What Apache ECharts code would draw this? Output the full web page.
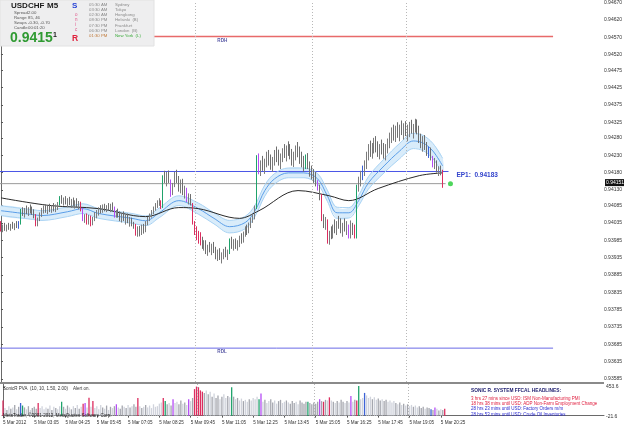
<!DOCTYPE html>
<html><head><meta charset="utf-8">
<script src="https://cdn.jsdelivr.net/npm/echarts@6/dist/echarts.min.js"></script>
<style>html,body{margin:0;padding:0;background:#fff}#c{width:625px;height:429px}</style>
</head><body><div id="c"></div>
<script>
// ---- data (prices in points, 1 point = 0.00001) ----
const ohlc = [ // [open, high, low, close]
[94035,94040,94010,94015],[94015,94030,94008,94025],[94025,94035,94012,94018],[94018,94030,94010,94028],[94028,94035,94015,94020],[94020,94032,94012,94026],[94026,94038,94018,94022],[94022,94034,94014,94030],[94030,94040,94020,94025],[94025,94040,94018,94035],
[94035,94075,94030,94070],[94070,94080,94055,94062],[94062,94078,94050,94072],[94072,94085,94060,94066],[94066,94080,94055,94074],[94074,94088,94062,94068],[94068,94082,94058,94060],[94060,94074,94048,94055],[94055,94060,94025,94030],[94030,94050,94025,94045],
[94045,94065,94040,94060],[94060,94078,94052,94070],[94070,94085,94062,94076],[94076,94088,94064,94070],[94070,94084,94060,94078],[94078,94090,94066,94072],[94072,94086,94064,94080],[94080,94092,94068,94074],[94074,94088,94066,94082],[94082,94095,94072,94088],
[94088,94112,94085,94108],[94108,94115,94090,94096],[94096,94108,94085,94100],[94100,94112,94088,94092],[94092,94106,94080,94098],[94098,94110,94086,94090],[94090,94104,94078,94096],[94096,94108,94084,94088],[94088,94100,94076,94094],[94094,94106,94080,94086],
[94086,94098,94074,94092],[94092,94096,94068,94072],[94072,94078,94040,94045],[94045,94060,94035,94055],[94055,94062,94030,94036],[94036,94058,94030,94050],[94050,94056,94025,94032],[94032,94052,94028,94046],[94046,94066,94040,94060],[94060,94072,94048,94066],
[94066,94080,94056,94074],[94074,94086,94062,94070],[94070,94088,94064,94080],[94080,94090,94068,94074],[94074,94086,94066,94082],[94082,94092,94070,94076],[94076,94090,94066,94084],[94084,94094,94070,94078],[94078,94082,94050,94056],[94056,94072,94050,94066],
[94066,94076,94050,94056],[94056,94068,94040,94048],[94048,94062,94036,94058],[94058,94068,94040,94044],[94044,94058,94030,94050],[94050,94062,94034,94038],[94038,94052,94024,94046],[94046,94050,94025,94030],[94030,94038,94018,94028],[94028,94032,93998,94005],
[94005,94025,93995,94015],[94015,94026,93996,94008],[94008,94030,94000,94020],[94020,94032,94004,94012],[94012,94040,94008,94036],[94036,94052,94028,94046],[94046,94062,94040,94058],[94058,94072,94050,94066],[94066,94082,94060,94078],[94078,94092,94070,94086],
[94086,94100,94078,94094],[94094,94106,94084,94096],[94096,94100,94075,94080],[94080,94172,94078,94168],[94168,94185,94150,94160],[94160,94182,94140,94172],[94172,94186,94150,94156],[94156,94160,94110,94118],[94118,94150,94115,94145],[94145,94182,94138,94175],
[94175,94188,94150,94158],[94158,94170,94125,94135],[94135,94160,94120,94150],[94150,94162,94115,94125],[94125,94142,94105,94132],[94132,94136,94095,94100],[94100,94120,94088,94112],[94112,94118,94085,94090],[94090,94092,94030,94035],[94035,94040,94000,94010],
[94010,94025,93985,93995],[93995,94012,93975,94002],[94002,94008,93970,93978],[93978,93995,93960,93968],[93968,93985,93955,93978],[93978,93985,93945,93950],[93950,93972,93940,93965],[93965,93980,93950,93958],[93958,93975,93942,93968],[93968,93980,93948,93952],
[93952,93966,93930,93940],[93940,93958,93925,93948],[93948,93962,93928,93934],[93934,93950,93918,93944],[93944,93960,93930,93952],[93952,93966,93936,93940],[93940,93958,93928,93950],[93950,93990,93945,93985],[93985,93995,93960,93970],[93970,93988,93955,93978],
[93978,93990,93960,93968],[93968,93985,93955,93978],[93978,93998,93965,93990],[93990,94005,93975,93985],[93985,94010,93978,94004],[94004,94025,93995,94018],[94018,94030,94000,94010],[94010,94036,94005,94030],[94030,94050,94020,94045],[94045,94062,94035,94056],
[94056,94085,94045,94080],[94080,94230,94075,94212],[94212,94235,94175,94185],[94185,94215,94170,94205],[94205,94228,94185,94195],[94195,94220,94176,94212],[94212,94240,94195,94225],[94225,94245,94200,94210],[94210,94232,94188,94198],[94198,94225,94182,94218],
[94218,94245,94200,94235],[94235,94255,94210,94222],[94222,94246,94200,94208],[94208,94235,94190,94226],[94226,94250,94210,94240],[94240,94262,94222,94232],[94232,94258,94212,94248],[94248,94270,94228,94240],[94240,94262,94218,94225],[94225,94248,94200,94212],
[94212,94240,94196,94230],[94230,94258,94215,94245],[94245,94268,94224,94236],[94236,94255,94205,94215],[94215,94240,94195,94206],[94206,94228,94182,94195],[94195,94232,94190,94226],[94226,94236,94190,94198],[94198,94212,94168,94180],[94180,94200,94160,94172],
[94172,94190,94150,94165],[94165,94182,94140,94150],[94150,94158,94128,94134],[94134,94145,94100,94110],[94110,94118,94040,94048],[94048,94060,94020,94030],[94030,94052,94015,94040],[94040,94045,93975,93990],[93990,94012,93972,94005],[94005,94025,93988,94000],
[94000,94030,93990,94022],[94022,94045,94005,94015],[94015,94040,94000,94032],[94032,94055,94018,94026],[94026,94048,94005,94012],[94012,94035,93995,94028],[94028,94048,94010,94020],[94020,94040,94000,94022],[94022,94030,93990,93998],[93998,94042,93990,94018],
[94018,94035,94000,94012],[94012,94030,93990,93995],[93995,94145,93990,94135],[94135,94168,94125,94160],[94160,94185,94140,94175],[94175,94200,94158,94190],[94190,94215,94170,94205],[94205,94240,94190,94232],[94232,94262,94215,94250],[94250,94272,94225,94240],
[94240,94265,94220,94255],[94255,94280,94235,94262],[94262,94285,94238,94248],[94248,94270,94225,94235],[94235,94262,94218,94250],[94250,94275,94232,94242],[94242,94265,94220,94236],[94236,94262,94215,94252],[94252,94278,94235,94268],[94268,94295,94250,94285],
[94285,94310,94265,94298],[94298,94318,94272,94285],[94285,94315,94268,94305],[94305,94325,94280,94292],[94292,94318,94270,94310],[94310,94330,94288,94300],[94300,94322,94275,94312],[94312,94328,94285,94295],[94295,94318,94270,94305],[94305,94326,94282,94315],
[94315,94332,94292,94300],[94300,94320,94278,94310],[94310,94335,94295,94322],[94322,94333,94290,94298],[94298,94315,94265,94275],[94275,94292,94250,94262],[94262,94285,94240,94270],[94270,94288,94245,94250],[94250,94268,94228,94238],[94238,94255,94222,94248],
[94248,94252,94215,94220],[94220,94228,94195,94202],[94202,94222,94190,94210],[94210,94215,94180,94186],[94186,94198,94170,94190],[94190,94200,94172,94180],[94180,94188,94136,94151]
];
const volume = [
240,120,90,150,110,130,170,100,140,200, 160,130,100,150,90,120,140,110,200,120,
150,100,130,110,160,90,140,120,100,150, 220,140,110,160,130,100,150,120,170,110,
140,190,200,130,285,140,230,120,150,100, 170,130,110,160,90,140,120,150,180,130,
110,160,140,120,170,130,150,180,140,280, 150,120,140,170,130,160,120,180,140,150,
190,210,280,230,180,200,160,260,200,220, 180,240,190,210,170,260,230,280,420,460,
450,400,380,360,400,340,380,300,350,280, 320,260,300,340,280,310,290,450,300,260,
280,240,270,230,250,220,260,240,280,260, 300,260,350,220,250,200,230,260,210,240,
190,230,250,200,220,240,210,190,230,200, 220,180,240,210,190,220,220,200,180,210,
190,220,260,230,220,250,240,290,240,220, 200,230,210,250,220,200,230,210,310,220,
250,240,470,260,280,360,320,280,300,260, 290,250,270,240,260,230,250,220,240,210,
230,200,180,210,170,190,160,180,150,170, 140,160,130,150,120,140,110,130,120,100,
90,130,110,80,100,90,110
];
// PVA colour codes: R climax bear, G climax bull, B rising bull, M rising bear
const pvaIdx  = [0,9,10,18,30,41,42,44,46,58,69,82,83,87,95,98,99,100,101,102,117,131,132,156,162,164,167,178,181,182,185,219,221,226];
const pvaCode = ['R','B','G','R','G','R','M','R','R','M','R','R','G','M','M','R','R','R','R','R','G','G','M','G','M','R','R','M','R','G','B','B','M','R'];
// Dragon band (EMA34 high / close / low) and EMA89, read at sparse bars
const emaIdx  = [0,16,21,34,42,50,67,74,81,91,101,109,117,125,130,135,140,147,155,162,167,172,178,183,188,196,204,211,216,221,226];
const emaMid  = [94070,94059,94056,94067,94076,94062,94048,94041,94064,94099,94076,94048,94024,94036,94070,94128,94162,94179,94179,94162,94113,94064,94064,94099,94150,94199,94242,94271,94265,94242,94199];
const emaHigh = [94084,94073,94070,94081,94090,94076,94062,94055,94078,94113,94092,94064,94042,94054,94086,94144,94177,94193,94193,94177,94129,94080,94079,94114,94168,94219,94264,94293,94287,94264,94221];
const emaLow  = [94056,94045,94042,94053,94062,94048,94034,94027,94050,94085,94060,94032,94006,94018,94054,94112,94147,94165,94165,94147,94097,94048,94049,94084,94132,94179,94220,94249,94243,94220,94177];
const ema89Idx = [0,25,50,74,91,101,122,132,152,168,178,193,214,226];
const ema89    = [94107,94085,94076,94053,94079,94076,94048,94070,94128,94113,94099,94134,94171,94179];
// horizontal levels
const levelNames  = ['RDH','RDL','EP1','LAST'];
const levelValues = [94572,93674,94183,94148];
const levelEnds   = [282.5,282.5,229,227.5];
const bidPrice = 94151;
const entryDot = [230, 94148];
const sepIdx = [99.4,159.1,207.6];
// axes
const nCats = 308;
const yTickLabels = ["0.94670","0.94620","0.94570","0.94520","0.94475","0.94425","0.94375","0.94325","0.94280","0.94230","0.94180","0.94130","0.94085","0.94035","0.93985","0.93935","0.93885","0.93835","0.93785","0.93735","0.93685","0.93635","0.93585"];
const volTickLabels = ["453.6","-21.6"];
const timeTickIdx = [0,16,32,48,64,80,96,112,128,144,160,176,192,208,224];
const timeTickLabels = ["5 Mar 2012","5 Mar 03:05","5 Mar 04:25","5 Mar 05:45","5 Mar 07:05","5 Mar 08:25","5 Mar 09:45","5 Mar 11:05","5 Mar 12:25","5 Mar 13:45","5 Mar 15:05","5 Mar 16:25","5 Mar 17:45","5 Mar 19:05","5 Mar 20:25"];
const headlines = [
 ["SONIC R. SYSTEM FFCAL HEADLINES:", "#1c1c6e"],
 ["3 hrs 27 mins since USD: ISM Non-Manufacturing PMI", "#e02040"],
 ["18 hrs 38 mins until USD: ADP Non-Farm Employment Change", "#e02040"],
 ["28 hrs 23 mins until USD: Factory Orders m/m", "#2a2ad0"],
 ["28 hrs 53 mins until USD: Crude Oil Inventories", "#2a2ad0"]
];
const sessionTimes = ["05:30 AM","03:30 AM","02:30 AM","08:30 PM","07:30 PM","06:30 PM","01:30 PM"];
const sessionCities = ["Sydney","Tokyo","Hongkong","Helsinki  (B)","Frankfurt","London  (B)","New York  (L)"];
const infoRows = [["Spread","2.00"],["Range","85, 46"],["Swaps","-0.30, -0.70"],["Candle","00:01:20"]];

// ---- build ----
const P = v => v / 1e5;
const FONT = 'Liberation Sans, Arial, sans-serif';
const pvaColor = {R:'#dc2d5f', G:'#1fa36b', B:'#3d62d6', M:'#b54cf5'};
const codeOf = i => { const k = pvaIdx.indexOf(i); return k >= 0 ? pvaCode[k] : null; };
const cats = Array.from({length: nCats}, (_, i) => String(i));

const candleData = ohlc.map((d, i) => {
  const c = codeOf(i);
  const item = { value: [P(d[0]), P(d[3]), P(d[2]), P(d[1])] };
  if (c) item.itemStyle = { color: pvaColor[c], color0: pvaColor[c], borderColor: pvaColor[c], borderColor0: pvaColor[c] };
  return item;
});
const volData = volume.map((v, i) => {
  const c = codeOf(i);
  const up = ohlc[i][3] >= ohlc[i][0];
  return { value: v, itemStyle: { color: c ? pvaColor[c] : (up ? '#d0d3dc' : '#a4a6ae') } };
});
const lineSeries = (idx, vals, color, width, z) => ({
  type: 'line', xAxisIndex: 1, yAxisIndex: 0, smooth: 0.35, showSymbol: false, silent: true, z: z,
  data: idx.map((x, k) => [x, P(vals[k])]), lineStyle: { color: color, width: width }
});
const levelColors = ['#e86a6a', '#6a6ae6', '#4a56e6', '#9a9a9a'];

const option = {
  animation: false,
  backgroundColor: '#ffffff',
  textStyle: { fontFamily: FONT },
  grid: [
    { left: 0, right: 21, top: 0, height: 382 },
    { left: 0, right: 21, top: 384, height: 34 }
  ],
  xAxis: [
    { type: 'category', gridIndex: 0, data: cats, boundaryGap: true, axisLine: {show: false}, axisTick: {show: false}, axisLabel: {show: false}, splitLine: {show: false} },
    { type: 'value', gridIndex: 0, min: -0.5, max: nCats - 0.5, show: false },
    { type: 'category', gridIndex: 1, data: cats, boundaryGap: true,
      axisLine: { show: true, lineStyle: { color: '#6a6a6a', width: 1 } },
      axisTick: { show: true, alignWithLabel: true, length: 2, interval: (i) => timeTickIdx.indexOf(i) >= 0, lineStyle: { color: '#555' } },
      axisLabel: { show: true, interval: (i) => timeTickIdx.indexOf(i) >= 0, align: 'left', margin: 2, fontSize: 4.6, color: '#333', fontFamily: FONT,
        formatter: (v, i) => { const k = timeTickIdx.indexOf(Number(v)); return k >= 0 ? timeTickLabels[k] : ''; } },
      splitLine: { show: false } },
    { type: 'value', gridIndex: 1, min: -0.5, max: nCats - 0.5, show: false }
  ],
  yAxis: [
    { type: 'value', gridIndex: 0, position: 'right', min: 0.935764, max: 0.946729, scale: true,
      axisLine: { show: true, lineStyle: { color: '#6a6a6a', width: 1 } },
      axisTick: { show: true, length: 2, customValues: yTickLabels.map(Number), lineStyle: { color: '#555' } },
      axisLabel: { show: true, customValues: yTickLabels.map(Number), formatter: v => v.toFixed(5), fontSize: 5, color: '#333', margin: 2, fontFamily: FONT },
      splitLine: { show: false } },
    { type: 'value', gridIndex: 1, position: 'right', min: -37.4, max: 501.1,
      axisLine: { show: true, lineStyle: { color: '#6a6a6a', width: 1 } },
      axisTick: { show: true, length: 2, customValues: volTickLabels.map(Number), lineStyle: { color: '#555' } },
      axisLabel: { show: true, customValues: volTickLabels.map(Number), formatter: v => v.toFixed(1), fontSize: 5, color: '#333', margin: 2, fontFamily: FONT },
      splitLine: { show: false } }
  ],
  series: [
    ...levelNames.map((n, k) => ({
      type: 'line', name: n, xAxisIndex: 1, yAxisIndex: 0, showSymbol: false, silent: true, z: 2,
      data: [[-0.5, P(levelValues[k])], [levelEnds[k], P(levelValues[k])]],
      lineStyle: { color: levelColors[k], width: k === 0 ? 1.4 : 1 }
    })),
    { type: 'custom', xAxisIndex: 1, yAxisIndex: 0, z: 1, silent: true,
      data: emaIdx.map((x, k) => [x, P(emaHigh[k]), P(emaLow[k])]),
      renderItem: (params, api) => {
        if (params.dataIndex !== 0) return null;
        const top = emaIdx.map((x, k) => api.coord([x, P(emaHigh[k])]));
        const bot = emaIdx.map((x, k) => api.coord([x, P(emaLow[k])])).reverse();
        return { type: 'polygon', shape: { points: top.concat(bot), smooth: 0.35 }, style: { fill: '#d9ecfa' } };
      } },
    lineSeries(emaIdx, emaHigh, '#a8d2f3', 1, 3),
    lineSeries(emaIdx, emaLow, '#a8d2f3', 1, 3),
    lineSeries(emaIdx, emaMid, '#5b9ee8', 1, 3),
    lineSeries(ema89Idx, ema89, '#2a2a2a', 1, 3),
    { type: 'line', xAxisIndex: 1, yAxisIndex: 0, data: [], silent: true,
      markLine: { symbol: 'none', silent: true, label: { show: false }, lineStyle: { type: [1, 2], color: '#b8b8b8', width: 1 }, data: sepIdx.map(x => ({ xAxis: x })) } },
    { type: 'line', xAxisIndex: 3, yAxisIndex: 1, data: [], silent: true,
      markLine: { symbol: 'none', silent: true, label: { show: false }, lineStyle: { type: [1, 2], color: '#b8b8b8', width: 1 }, data: sepIdx.map(x => ({ xAxis: x })) } },
    { type: 'candlestick', xAxisIndex: 0, yAxisIndex: 0, z: 5, barWidth: 1.2, data: candleData,
      itemStyle: { color: '#b4b4b4', color0: '#747474', borderColor: '#7c7c7c', borderColor0: '#6e6e6e', borderWidth: 1 } },
    { type: 'scatter', xAxisIndex: 1, yAxisIndex: 0, z: 6, symbolSize: 5, data: [[entryDot[0], P(entryDot[1])]], itemStyle: { color: '#22cc33' } },
    { type: 'bar', xAxisIndex: 2, yAxisIndex: 1, barWidth: 1.3, data: volData }
  ]
};

const chart = echarts.init(document.getElementById('c'), null, { renderer: 'canvas' });
chart.setOption(option);

// ---- text overlays positioned through the chart's scales ----
const toPx = (x, v) => chart.convertToPixel({ seriesIndex: 0 }, [x, P(v)]);
const g = [];
g.push({ type: 'rect', shape: { x: 0, y: 0, width: 154, height: 46 }, style: { fill: '#eeeeef', stroke: '#e2e2e2' }, z: 100 });
g.push({ type: 'text', x: 11, y: 1.5, style: { text: 'USDCHF', font: 'bold 8px ' + FONT, fill: '#1a1a1a' }, z: 101 });
g.push({ type: 'text', x: 47, y: 1.5, style: { text: 'M5', font: 'bold 8px ' + FONT, fill: '#1a1a1a' }, z: 101 });
infoRows.forEach((r, k) => {
  g.push({ type: 'text', x: 14, y: 11 + k * 5, style: { text: r[0], font: '4.3px ' + FONT, fill: '#555' }, z: 101 });
  g.push({ type: 'text', x: 28, y: 11 + k * 5, style: { text: r[1], font: '4.3px ' + FONT, fill: '#555' }, z: 101 });
});
g.push({ type: 'text', x: 10, y: 31, style: { text: '0.9415', font: 'bold 14px ' + FONT, fill: '#2f9a32' }, z: 101 });
g.push({ type: 'text', x: 53, y: 32, style: { text: '1', font: 'bold 7px ' + FONT, fill: '#1a1a1a' }, z: 101 });
g.push({ type: 'text', x: 72, y: 2, style: { text: 'S', font: 'bold 8px ' + FONT, fill: '#2642d6' }, z: 101 });
['o','n','i','c'].forEach((ch, k) => g.push({ type: 'text', x: 75, y: 12 + k * 5, style: { text: ch, font: '4.5px ' + FONT, fill: '#e0568a' }, z: 101 }));
g.push({ type: 'text', x: 72, y: 34, style: { text: 'R', font: 'bold 8.5px ' + FONT, fill: '#e0203c' }, z: 101 });
sessionTimes.forEach((t, k) => {
  const last = k === sessionTimes.length - 1;
  g.push({ type: 'text', x: 89, y: 3 + k * 5.1, style: { text: t, font: '4.3px ' + FONT, fill: last ? '#c07a3a' : '#8a8a8a' }, z: 101 });
  g.push({ type: 'text', x: 115, y: 3 + k * 5.1, style: { text: sessionCities[k], font: '4.3px ' + FONT, fill: last ? '#3aaa3a' : '#8a8a8a' }, z: 101 });
});
[0, 1].forEach(k => {
  const p = toPx(110.7, levelValues[k]);
  g.push({ type: 'text', x: p[0], y: p[1] + 1.5, style: { text: levelNames[k], font: 'bold 4.6px ' + FONT, fill: '#5a5aa6' }, z: 50 });
});
const ep = toPx(232, levelValues[2]);
g.push({ type: 'text', x: ep[0] + 2, y: ep[1] + 0.5, style: { text: 'EP1:  ' + P(levelValues[2]).toFixed(5), font: 'bold 6.5px ' + FONT, fill: '#3344cc' }, z: 50 });
const bp = toPx(0, bidPrice);
g.push({ type: 'rect', shape: { x: 605, y: bp[1] - 3.5, width: 19, height: 7 }, style: { fill: '#111' }, z: 60 });
g.push({ type: 'text', x: 606, y: bp[1] - 2.8, style: { text: P(bidPrice).toFixed(5), font: '5px ' + FONT, fill: '#fff' }, z: 61 });
g.push({ type: 'rect', shape: { x: 0, y: 382, width: 604, height: 2 }, style: { fill: '#8a8a8a' }, z: 40 });
g.push({ type: 'text', x: 3, y: 386, style: { text: 'SonicR PVA  (10, 10, 1.50, 2.00)    Alert on.', font: '4.5px ' + FONT, fill: '#333' }, z: 50 });
g.push({ type: 'text', x: 3, y: 413, style: { text: 'MetaTrader, \u00a92001-2012, MetaQuotes Software Corp.', font: '4.5px ' + FONT, fill: '#222' }, z: 50 });
headlines.forEach((h, k) => {
  g.push({ type: 'text', x: 471, y: (k === 0 ? 388.5 : 396 + (k - 1) * 5.3), style: { text: h[0], font: (k === 0 ? 'bold 4.8px ' : '4.5px ') + FONT, fill: h[1] }, z: 50 });
});
chart.setOption({ graphic: g });
</script>
</body></html>
